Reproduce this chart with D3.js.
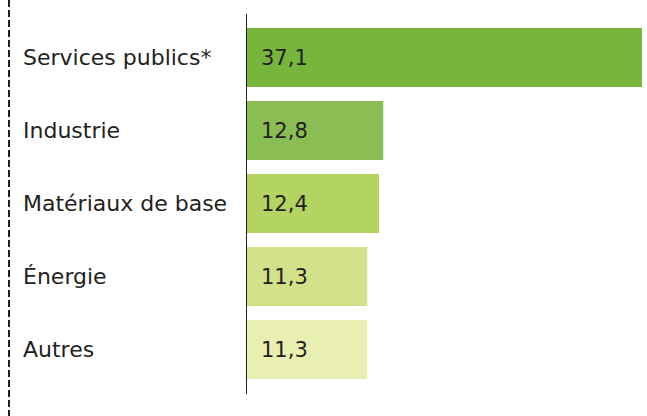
<!DOCTYPE html>
<html>
<head>
<meta charset="utf-8">
<script src="https://cdn.jsdelivr.net/npm/d3@7"></script>
<style>
  body { margin: 0; background: #fff; }
  svg text { font-family: "DejaVu Sans", Arial, sans-serif; fill: #231f20; }
</style>
</head>
<body>
<svg id="chart" width="647" height="416"></svg>
<script>
const categories = ["Services publics*", "Industrie", "Matériaux de base", "Énergie", "Autres"]
const values = [37.1, 12.8, 12.4, 11.3, 11.3]
const colors = ["#77b63c", "#8bbd55", "#b3d460", "#d3e289", "#e8efb0"]

let svg = d3.select("#chart")
let x0 = 247

let xScale = d3.scaleLinear().domain([0, 37.1]).range([x0, 642])
// step 73px, bar 59px
let yScale = d3.scaleBand().domain(categories).range([28, 379]).paddingInner(14 / 73).paddingOuter(0)

// dashed left border
svg.append("line")
    .attr("x1", 9).attr("x2", 9)
    .attr("y1", 0).attr("y2", 416)
    .attr("stroke", "#231f20")
    .attr("stroke-width", 2)
    .attr("stroke-dasharray", "7,3")

// vertical axis line
svg.append("line")
    .attr("x1", x0 - 0.5).attr("x2", x0 - 0.5)
    .attr("y1", 14).attr("y2", 394)
    .attr("stroke", "#231f20")
    .attr("stroke-width", 1)

// bars
svg.selectAll(".bar")
    .data(values)
    .enter()
    .append("rect")
    .attr("class", "bar")
    .attr("x", x0)
    .attr("y", (d, i) => yScale(categories[i]))
    .attr("width", d => xScale(d) - x0)
    .attr("height", yScale.bandwidth())
    .style("fill", (d, i) => colors[i])

// value labels
svg.selectAll(".val")
    .data(values)
    .enter()
    .append("text")
    .attr("class", "val")
    .attr("x", 261)
    .attr("y", (d, i) => yScale(categories[i]) + yScale.bandwidth() / 2)
    .attr("dy", "0.36em")
    .style("font-size", "21px")
    .text(d => d.toFixed(1).replace(".", ","))

// category labels
svg.selectAll(".cat")
    .data(categories)
    .enter()
    .append("text")
    .attr("class", "cat")
    .attr("x", 23)
    .attr("y", d => yScale(d) + yScale.bandwidth() / 2)
    .attr("dy", "0.36em")
    .style("font-size", "22px")
    .text(d => d)
</script>
</body>
</html>
